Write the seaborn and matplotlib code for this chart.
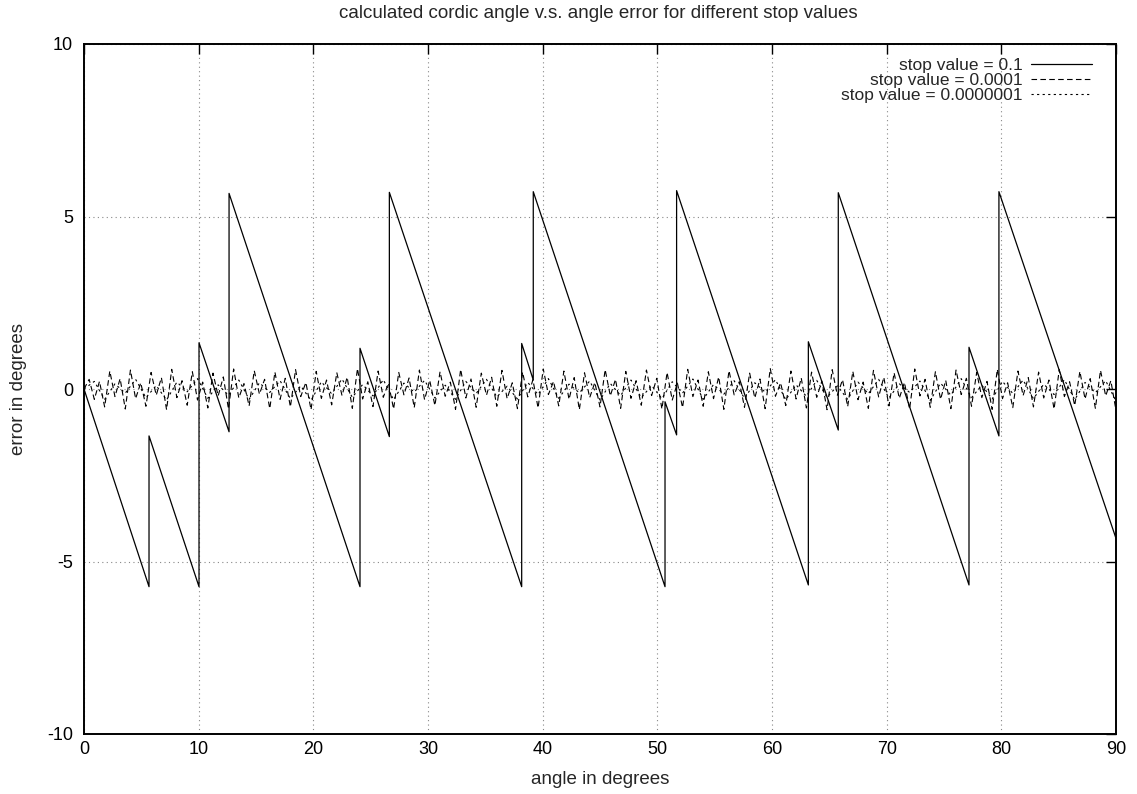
import numpy as np
import pandas as pd
import matplotlib
matplotlib.use("Agg")
import matplotlib.pyplot as plt
import seaborn as sns

# ---- data ----
# stop value = 0.1 : sawtooth break points (repeated x = vertical jump)
angle_s1 = [0, 5.67, 5.67, 10.03, 10.03, 12.65, 12.65, 24.07, 24.07, 26.63, 26.63,
            38.17, 38.17, 39.18, 39.18, 50.67, 50.67, 51.68, 51.68, 63.17, 63.17,
            65.78, 65.78, 77.18, 77.18, 79.79, 79.79, 90]
error_s1 = [0, -5.73, -1.36, -5.73, 1.34, -1.24, 5.67, -5.73, 1.18, -1.38, 5.70,
            -5.73, 1.32, 0.26, 5.72, -5.73, -0.37, -1.33, 5.75, -5.68, 1.37,
            -1.19, 5.69, -5.68, 1.21, -1.36, 5.72, -4.33]

# stop value = 0.0001 : small oscillation, sampled every 0.45 degrees
error_s2 = [0.00,
    0.28, -0.30, 0.22, -0.52,  0.52, -0.22, 0.30, -0.58,  0.55, -0.28, 0.18, -0.50,
    0.48, -0.18, 0.33, -0.60,  0.57, -0.25, 0.24, -0.47,  0.50, -0.32, 0.20, -0.55,
    0.46, -0.20, 0.35, -0.58,  0.58, -0.26, 0.16, -0.49,  0.53, -0.15, 0.28, -0.57,
    0.49, -0.30, 0.31, -0.52,  0.56, -0.22, 0.19, -0.60,  0.51, -0.27, 0.26, -0.46,
    0.47, -0.19, 0.34, -0.56,  0.59, -0.29, 0.21, -0.51,  0.52, -0.24, 0.17, -0.58,
    0.48, -0.17, 0.32, -0.54,  0.55, -0.31, 0.25, -0.48,  0.50, -0.21, 0.20, -0.59,
    0.57, -0.26, 0.29, -0.53,  0.46, -0.18, 0.34, -0.50,  0.54, -0.28, 0.18, -0.57,
    0.49, -0.23, 0.27, -0.55,  0.58, -0.16, 0.22, -0.49,  0.52, -0.30, 0.33, -0.60,
    0.47, -0.25, 0.19, -0.52,  0.56, -0.20, 0.28, -0.56,  0.51, -0.27, 0.24, -0.47,
    0.55, -0.19, 0.31, -0.58,  0.48, -0.32, 0.17, -0.54,  0.57, -0.22, 0.26, -0.50,
    0.50, -0.28, 0.35, -0.59,  0.53, -0.17, 0.21, -0.53,  0.46, -0.26, 0.29, -0.57,
    0.59, -0.21, 0.18, -0.48,  0.52, -0.29, 0.32, -0.55,  0.49, -0.24, 0.23, -0.60,
    0.56, -0.18, 0.27, -0.51,  0.51, -0.31, 0.20, -0.56,  0.54, -0.23, 0.34, -0.49,
    0.47, -0.27, 0.19, -0.58,  0.58, -0.20, 0.28, -0.53,  0.50, -0.30, 0.25, -0.57,
    0.55, -0.16, 0.31, -0.50,  0.48, -0.25, 0.22, -0.59,  0.57, -0.28, 0.18, -0.54,
    0.52, -0.19, 0.33, -0.52,  0.49, -0.26, 0.26, -0.58,  0.56, -0.22, 0.21, -0.48,
    0.51, -0.29, 0.30, -0.56,  0.54, -0.20, 0.24, -0.62]

# stop value = 0.0000001 : smaller oscillation, sampled every 0.9 degrees
error_s3 = [0.00, 0.22, -0.30, 0.15, -0.12, 0.28, -0.25, 0.10, -0.32, 0.20,
    -0.08, 0.30, -0.27, 0.12, -0.18, 0.26, -0.30, 0.18, -0.10, 0.24,
    -0.28, 0.09, -0.33, 0.21, -0.14, 0.29, -0.24, 0.13, -0.20, 0.27,
    -0.31, 0.17, -0.09, 0.25, -0.26, 0.11, -0.30, 0.22, -0.13, 0.28,
    -0.23, 0.08, -0.29, 0.19, -0.16, 0.30, -0.27, 0.14, -0.11, 0.23,
    -0.32, 0.16, -0.19, 0.26, -0.25, 0.10, -0.28, 0.21, -0.12, 0.29,
    -0.30, 0.13, -0.15, 0.24, -0.27, 0.18, -0.09, 0.27, -0.31, 0.12,
    -0.21, 0.25, -0.24, 0.09, -0.30, 0.20, -0.14, 0.28, -0.26, 0.15,
    -0.10, 0.23, -0.33, 0.17, -0.18, 0.30, -0.25, 0.11, -0.29, 0.22,
    -0.13, 0.26, -0.28, 0.14, -0.16, 0.27, -0.31, 0.19, -0.11, 0.24, -0.35]

labels = ["stop value = 0.1", "stop value = 0.0001", "stop value = 0.0000001"]
x_ticks = [0, 10, 20, 30, 40, 50, 60, 70, 80, 90]
y_ticks = [-10, -5, 0, 5, 10]

angle_s2 = np.linspace(0, 90, len(error_s2))
angle_s3 = np.linspace(0, 90, len(error_s3))

df1 = pd.DataFrame({"angle": angle_s1, "error": error_s1})
df2 = pd.DataFrame({"angle": angle_s2, "error": error_s2})
df3 = pd.DataFrame({"angle": angle_s3, "error": error_s3})

# ---- styling ----
sns.set_style("white")
plt.rcParams["font.family"] = ["Liberation Sans", "DejaVu Sans"]
plt.rcParams["font.size"] = 13
plt.rcParams["axes.unicode_minus"] = False

fig = plt.figure(figsize=(11.37, 7.94), dpi=100)
ax = fig.add_axes([84 / 1137, 1 - 734 / 794, (1116 - 84) / 1137, (734 - 44) / 794])

sns.lineplot(data=df1, x="angle", y="error", ax=ax, sort=False, estimator=None,
             color="black", lw=0.9, label=labels[0])
sns.lineplot(data=df2, x="angle", y="error", ax=ax, sort=False, estimator=None,
             color="black", lw=0.8, linestyle=(0, (5, 3)), label=labels[1])
sns.lineplot(data=df3, x="angle", y="error", ax=ax, sort=False, estimator=None,
             color="black", lw=0.8, linestyle=(0, (2, 3)), label=labels[2])

ax.set_xlim(0, 90)
ax.set_ylim(-10, 10)
ax.set_xticks(x_ticks)
ax.set_yticks(y_ticks)
ax.grid(True, color="#888888", linestyle=(0, (1, 3)), lw=0.8)
ax.set_axisbelow(True)

for sp in ax.spines.values():
    sp.set_color("black")
    sp.set_linewidth(1.4)

ax.tick_params(axis="both", direction="in", length=7, width=1.0, color="black",
               top=True, right=True, labelsize=13, labelcolor="black")
ax.tick_params(axis="x", pad=5)
ax.tick_params(axis="y", pad=8)

ax.set_xlabel("angle in degrees", fontsize=13.5, va="center", ha="center")
ax.set_ylabel("error in degrees", fontsize=13.5, va="center", ha="center")
ax.xaxis.set_label_coords(0.5, (734 - 780) / 690)
ax.yaxis.set_label_coords((19 - 84) / 1032, 0.5)
fig.text(598 / 1137, 1 - 14 / 794,
         "calculated cordic angle v.s. angle error for different stop values",
         ha="center", va="center", fontsize=13.5)

leg = ax.legend(loc="upper right", frameon=False, markerfirst=False,
                handlelength=3.5, handletextpad=0.5, labelspacing=0.0,
                fontsize=12.5, borderaxespad=0.4, bbox_to_anchor=(0.99, 1.0))

fig.savefig("out.png", dpi=100, facecolor="white")
